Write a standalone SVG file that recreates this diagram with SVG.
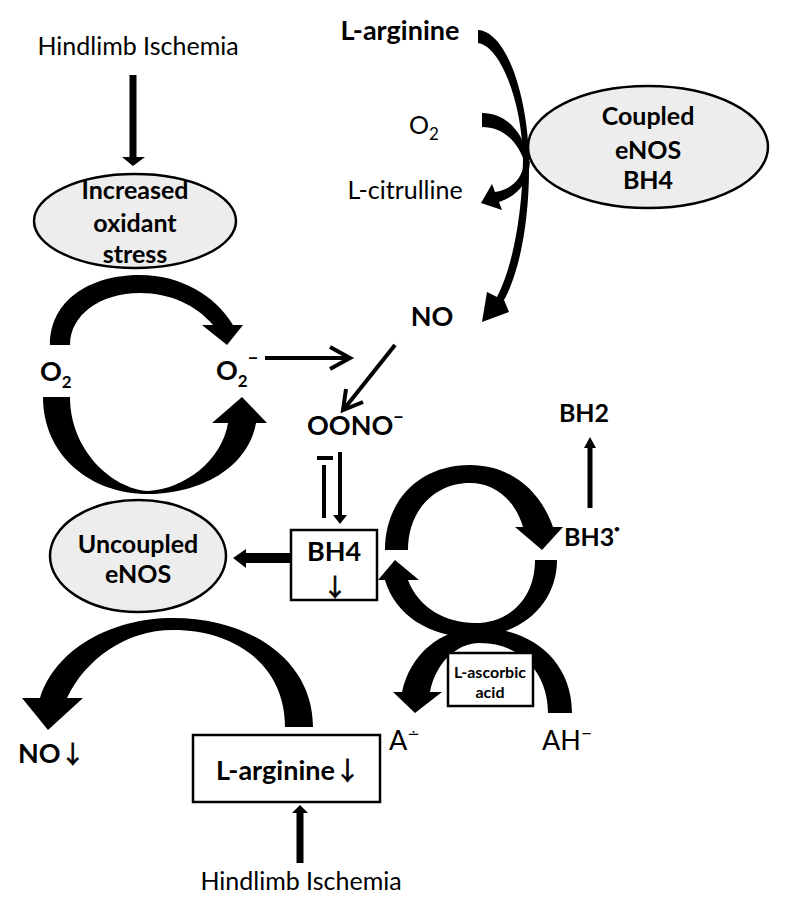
<svg xmlns="http://www.w3.org/2000/svg" width="789" height="911" viewBox="0 0 789 911">
<style>
text{font-family:Lato,"Liberation Sans",sans-serif;fill:#000}
.r{font-size:25px}
.b{font-size:27px;font-weight:bold}
.be{font-size:25px;font-weight:bold}
.e{fill:#ededed;stroke:#000;stroke-width:2.5}
.box{fill:#fff;stroke:#000;stroke-width:2.5}
.ln{stroke:#000;fill:none}
.f{fill:#000;stroke:none}
.sym{font-family:"Noto Sans CJK JP","DejaVu Sans",sans-serif;font-weight:normal;fill:#000;stroke:#000;stroke-width:0.8}
</style>
<rect width="789" height="911" fill="#fff"/>
<g id="connectors">
  <line class="ln" x1="133" y1="75" x2="133" y2="158" stroke-width="7"/>
  <polygon class="f" points="122,157 145,157 133,166"/>
  <line class="ln" x1="300" y1="863" x2="300" y2="812" stroke-width="7"/>
  <polygon class="f" points="292,813 308,813 300,805"/>
  <path class="f" d="M50,345 C50,300 90,275 140,275 C180,275 215,295 233,325 L243,325 L227,345 L202,325 L213,325 C196,305 170,293 140,293 C100,293 70,315 70,345 Z"/>
  <path class="f" d="M43,397 L70,397 C70,450 112,489 148,491 C185,489 222,460 228,423 L212,423 L242,397 L267,423 L256,423 C248,468 200,494 148,494 C90,494 43,455 43,397 Z"/>
  <line class="ln" x1="265" y1="358" x2="350" y2="358" stroke-width="4"/>
  <polyline class="ln" points="330,347 350,358 330,369" stroke-width="4"/>
  <line class="ln" x1="395" y1="345" x2="344" y2="409" stroke-width="4"/>
  <polyline class="ln" points="346,389 343,410 363,402" stroke-width="4"/>
  <line class="ln" x1="324" y1="465" x2="324" y2="518" stroke-width="4"/>
  <line class="ln" x1="317" y1="458" x2="333" y2="458" stroke-width="4"/>
  <line class="ln" x1="340" y1="452" x2="340" y2="516" stroke-width="4"/>
  <polygon class="f" points="333,515 347,515 340,524"/>
  <line class="ln" x1="291" y1="558" x2="244" y2="558" stroke-width="10"/>
  <polygon class="f" points="246,549 246,568 233,558"/>
  <line class="ln" x1="590" y1="508" x2="590" y2="446" stroke-width="5"/>
  <polygon class="f" points="584,448 596,448 590,437"/>
  <path class="f" d="M385,550 C385,500 420,465 470,465 C510,465 540,490 553,527 L563,527 L542,550 L515,527 L523,527 C515,500 495,483 470,483 C435,483 408,510 408,550 Z"/>
  <path class="f" d="M557,560 C557,605 520,637 470,637 C430,637 395,615 385,580 L378,580 L395,560 L419,580 L408,580 C418,607 445,623 475,623 C510,623 535,598 535,560 Z"/>
  <path class="f" d="M572,713 C572,660 530,628 480,628 C440,628 410,655 402,692 L393,692 L415,713 L442,692 L430,692 C435,665 455,643 480,643 C520,643 548,672 548,713 Z"/>
  <path class="f" d="M313,727 C313,660 250,618 173,618 C110,618 55,650 40,698 L22,698 L48,730 L83,698 L67,698 C85,660 125,630 173,630 C235,630 285,665 285,727 Z"/>
  <path class="f" d="M478,30 C508,32 528,100 529,160 C530,225 518,275 504,300 L509,312 L482,322 L487,292 L497,297 C510,272 522,225 523,160 C522,100 500,46 478,43 Z"/>
  <path class="f" d="M482,113 C505,113 522,130 529,158 L526,166 C518,140 502,127 482,127 Z"/>
  <path class="f" d="M524,163 C522,180 510,190 495,192 L492,184 L481,203 L502,210 L499,202 C518,196 529,182 530,161 Z"/>
</g>
<g id="hindlimb-top"><text class="r" x="138" y="55" text-anchor="middle">Hindlimb Ischemia</text></g>
<g id="oxidant-stress">
  <ellipse class="e" cx="135" cy="221" rx="101" ry="47"/>
  <text class="be" x="135" y="199" text-anchor="middle">Increased</text>
  <text class="be" x="135" y="232" text-anchor="middle">oxidant</text>
  <text class="be" x="135" y="263" text-anchor="middle">stress</text>
</g>
<g id="l-arginine-top"><text class="b" x="400" y="40" text-anchor="middle" font-size="30">L-arginine</text></g>
<g id="o2-top"><text class="r" x="409" y="134">O<tspan font-size="17" dy="6">2</tspan></text></g>
<g id="l-citrulline"><text class="r" x="405" y="199" text-anchor="middle" font-size="27">L-citrulline</text></g>
<g id="coupled-enos">
  <ellipse class="e" cx="648" cy="147" rx="120" ry="61"/>
  <text class="be" x="648" y="125" text-anchor="middle">Coupled</text>
  <text class="be" x="648" y="159" text-anchor="middle">eNOS</text>
  <text class="be" x="648" y="189" text-anchor="middle">BH4</text>
</g>
<g id="no-top"><text class="b" x="432" y="326" text-anchor="middle">NO</text></g>
<g id="o2-left"><text class="b" x="40" y="381">O<tspan font-size="17" dy="7">2</tspan></text></g>
<g id="superoxide"><text class="b" x="216" y="380">O<tspan font-size="17" dy="7">2</tspan><tspan font-size="18" dy="-22">−</tspan></text></g>
<g id="peroxynitrite"><text class="b" x="307" y="435">OONO<tspan font-size="18" dy="-11">−</tspan></text></g>
<g id="bh4-box">
  <rect class="box" x="291" y="530" width="86" height="70"/>
  <text class="b" x="334" y="561" text-anchor="middle">BH4</text>
  <text class="sym" x="335" y="596" text-anchor="middle" font-size="24">↓</text>
</g>
<g id="uncoupled-enos">
  <ellipse class="e" cx="138" cy="556" rx="88" ry="56"/>
  <text class="be" x="138" y="553" text-anchor="middle">Uncoupled</text>
  <text class="be" x="138" y="583" text-anchor="middle">eNOS</text>
</g>
<g id="bh2"><text class="be" x="584" y="422" text-anchor="middle">BH2</text></g>
<g id="bh3"><text class="be" x="564" y="546">BH3<tspan font-size="9" dy="-14">●</tspan></text></g>
<g id="ascorbic">
  <rect class="box" x="448" y="653" width="85" height="53"/>
  <text x="490" y="678" text-anchor="middle" font-size="16" font-weight="bold">L-ascorbic</text>
  <text x="490" y="698" text-anchor="middle" font-size="16" font-weight="bold">acid</text>
</g>
<g id="a-radical"><text x="389" y="750" font-size="27">A<tspan font-family="DejaVu Sans,sans-serif" font-size="15" dy="-11">∸</tspan></text></g>
<g id="ah"><text x="542" y="750" font-size="27">AH<tspan font-size="19" dy="-10">−</tspan></text></g>
<g id="no-down"><text class="b" x="18" y="763" font-size="26">NO<tspan class="sym" font-size="24">↓</tspan></text></g>
<g id="l-arginine-box">
  <rect class="box" x="193" y="735" width="187" height="67"/>
  <text class="b" x="288" y="780" text-anchor="middle" font-size="29">L-arginine<tspan class="sym" font-size="25">↓</tspan></text>
</g>
<g id="hindlimb-bottom"><text class="r" x="301" y="890" text-anchor="middle">Hindlimb Ischemia</text></g>
</svg>
